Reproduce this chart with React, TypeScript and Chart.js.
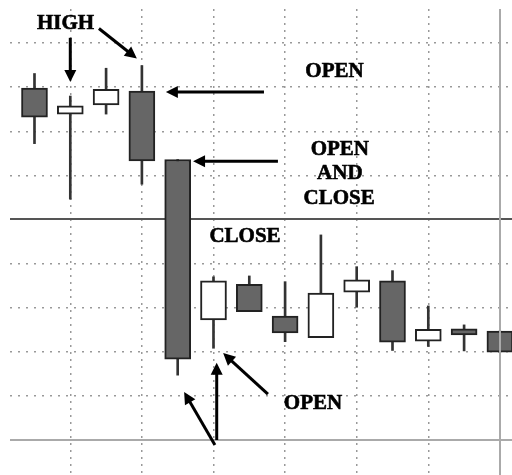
import React, { useEffect, useRef } from "react";
import { Chart, registerables } from "chart.js";

Chart.register(...registerables);

// Candle data (index = trading period)
const periods = [0, 1, 2, 3, 4, 5, 6, 7, 8, 9, 10, 11, 12, 13];
const opens = [79.8, 73.9, 76.0, 79.1, 63.6, 27.2, 35.3, 28.1, 23.2, 33.5, 36.1, 22.4, 25.2, 24.7];
const closes = [73.2, 75.8, 79.5, 63.3, 18.3, 36.1, 29.1, 24.3, 33.3, 36.3, 22.2, 25.1, 23.8, 19.9];
const highs = [83.1, 78.0, 84.3, 84.9, 63.6, 37.0, 37.2, 35.9, 46.5, 39.3, 38.4, 30.4, 26.1, 24.7];
const lows = [67.2, 54.6, 73.9, 58.0, 14.7, 20.8, 29.1, 22.3, 23.2, 30.1, 20.3, 21.2, 20.2, 19.9];

// Grid ticks
const xGridTicks = [1, 3, 5, 7, 9, 11, 13];
const yGridTicks = [0, 10, 20, 30, 40, 50, 60, 70, 80, 90];

// Annotation labels (data coordinates: period, price)
const labelTexts = ["HIGH", "OPEN", "OPEN", "AND", "CLOSE", "CLOSE", "OPEN"];
const labelX = [0.866, 8.38, 8.53, 8.53, 8.51, 5.88, 7.78];
const labelY = [94.7, 83.9, 66.3, 60.8, 55.0, 46.5, 8.7];

// Annotation arrows (tail -> tip, data coordinates)
const arrowFromX = [1.0, 1.8, 6.41, 6.8, 5.09, 5.04, 6.52];
const arrowFromY = [91.2, 93.3, 78.9, 63.2, 0, -1.13, 10.4];
const arrowToX = [1.0, 2.86, 3.67, 4.43, 5.09, 4.18, 5.27];
const arrowToY = [81.2, 86.5, 78.9, 63.2, 17.5, 10.9, 19.7];

const annotationPlugin = {
  id: "annotations",
  beforeDatasetsDraw(chart: any) {
    const { ctx, chartArea, scales } = chart;
    const y = scales.y;
    ctx.save();
    const y50 = Math.round(y.getPixelForValue(50));
    ctx.strokeStyle = "#555";
    ctx.lineWidth = 2;
    ctx.beginPath();
    ctx.moveTo(chartArea.left, y50);
    ctx.lineTo(chartArea.right, y50);
    ctx.stroke();
    const y0 = Math.round(y.getPixelForValue(0));
    ctx.strokeStyle = "#aaa";
    ctx.beginPath();
    ctx.moveTo(chartArea.left, y0);
    ctx.lineTo(chartArea.right, y0);
    ctx.stroke();
    ctx.restore();
  },
  afterDatasetsDraw(chart: any) {
    const { ctx, chartArea, scales } = chart;
    const x = scales.x;
    const y = scales.y;
    ctx.save();
    const x13 = Math.round(x.getPixelForValue(13));
    ctx.strokeStyle = "#aaa";
    ctx.lineWidth = 2;
    ctx.beginPath();
    ctx.moveTo(x13, chartArea.top);
    ctx.lineTo(x13, chartArea.bottom);
    ctx.stroke();

    ctx.strokeStyle = "#000";
    ctx.fillStyle = "#000";
    for (let i = 0; i < arrowFromX.length; i++) {
      const x1 = x.getPixelForValue(arrowFromX[i]);
      const y1 = y.getPixelForValue(arrowFromY[i]);
      const x2 = x.getPixelForValue(arrowToX[i]);
      const y2 = y.getPixelForValue(arrowToY[i]);
      const ang = Math.atan2(y2 - y1, x2 - x1);
      const headLen = 12;
      const headHalf = 6;
      const bx = x2 - headLen * Math.cos(ang);
      const by = y2 - headLen * Math.sin(ang);
      ctx.lineWidth = 3;
      ctx.beginPath();
      ctx.moveTo(x1, y1);
      ctx.lineTo(bx + Math.cos(ang), by + Math.sin(ang));
      ctx.stroke();
      ctx.beginPath();
      ctx.moveTo(x2, y2);
      ctx.lineTo(bx - headHalf * Math.sin(ang), by + headHalf * Math.cos(ang));
      ctx.lineTo(bx + headHalf * Math.sin(ang), by - headHalf * Math.cos(ang));
      ctx.closePath();
      ctx.fill();
    }

    ctx.font = 'bold 21px "Liberation Serif", "Times New Roman", serif';
    ctx.textAlign = "center";
    ctx.textBaseline = "alphabetic";
    ctx.fillStyle = "#000";
    ctx.strokeStyle = "#000";
    ctx.lineWidth = 0.6;
    for (let i = 0; i < labelTexts.length; i++) {
      const px = x.getPixelForValue(labelX[i]);
      const py = y.getPixelForValue(labelY[i]);
      ctx.fillText(labelTexts[i], px, py + 7);
      ctx.strokeText(labelTexts[i], px, py + 7);
    }
    ctx.restore();
  },
};

export default function App() {
  const canvasRef = useRef<HTMLCanvasElement | null>(null);

  useEffect(() => {
    if (!canvasRef.current) return;
    const isDown = periods.map((_, i) => closes[i] < opens[i]);
    const chart = new Chart(canvasRef.current, {
      type: "bar",
      data: {
        datasets: [
          {
            label: "wick",
            data: periods.map((p, i) => ({ x: p, y: [lows[i], highs[i]] })) as any,
            backgroundColor: "#333",
            borderWidth: 0,
            barThickness: 2,
            grouped: false,
            order: 2,
          } as any,
          {
            label: "body",
            data: periods.map((p, i) => ({ x: p, y: [opens[i], closes[i]] })) as any,
            backgroundColor: isDown.map((d) => (d ? "#666666" : "#ffffff")),
            borderColor: "#222",
            borderWidth: 2,
            borderSkipped: false,
            barThickness: 26,
            grouped: false,
            order: 1,
          } as any,
        ],
      },
      options: {
        responsive: false,
        maintainAspectRatio: false,
        animation: false,
        events: [],
        layout: { padding: { left: 10, top: 9, right: 0, bottom: 0 } },
        plugins: {
          legend: { display: false },
          tooltip: { enabled: false },
        },
        scales: {
          x: {
            type: "linear",
            offset: false,
            min: -0.684,
            max: 13.338,
            afterBuildTicks: (scale: any) => {
              scale.ticks = xGridTicks.map((v) => ({ value: v }));
            },
            ticks: { display: false },
            grid: {
              offset: false,
              drawTicks: false,
              color: (ctx: any) => (ctx.tick && ctx.tick.value === 13 ? "rgba(0,0,0,0)" : "#999"),
              lineWidth: 1.5,
            },
            border: { display: false, dash: [2, 5] },
          },
          y: {
            type: "linear",
            min: -7.94,
            max: 97.73,
            afterBuildTicks: (scale: any) => {
              scale.ticks = yGridTicks.map((v) => ({ value: v }));
            },
            ticks: { display: false },
            grid: {
              drawTicks: false,
              color: (ctx: any) =>
                ctx.tick && (ctx.tick.value === 0 || ctx.tick.value === 50) ? "rgba(0,0,0,0)" : "#999",
              lineWidth: 1.5,
            },
            border: { display: false, dash: [2, 6] },
          },
        },
      } as any,
      plugins: [annotationPlugin],
    });
    return () => chart.destroy();
  }, []);

  return (
    <div style={{ position: "fixed", left: 0, top: 0, width: 512, height: 475, background: "#fff" }}>
      <canvas ref={canvasRef} width={512} height={475} style={{ display: "block" }} />
    </div>
  );
}
